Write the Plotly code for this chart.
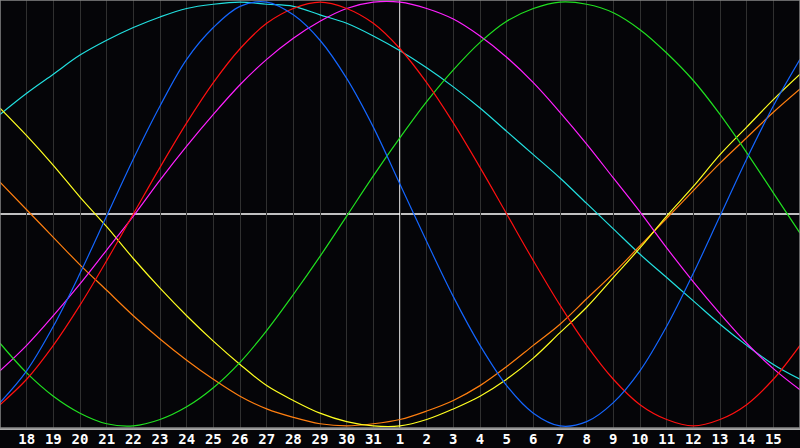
import plotly.graph_objects as go

days = list(range(31))
tick_pos = list(range(1, 30))
tick_labels = ["18", "19", "20", "21", "22", "23", "24", "25", "26", "27", "28", "29", "30", "31",
               "1", "2", "3", "4", "5", "6", "7", "8", "9", "10", "11", "12", "13", "14", "15"]

blue = [-0.89, -0.74, -0.53, -0.28, -0.01, 0.26, 0.51, 0.73, 0.88, 0.98, 1.00, 0.94, 0.82, 0.64, 0.41, 0.14,
        -0.13, -0.39, -0.62, -0.81, -0.94, -1.00, -0.98, -0.89, -0.74, -0.53, -0.28, -0.01, 0.26, 0.51, 0.73]
red = [-0.90, -0.78, -0.62, -0.43, -0.22, 0.00, 0.22, 0.43, 0.62, 0.78, 0.90, 0.97, 1.00, 0.97, 0.90, 0.78,
       0.62, 0.43, 0.22, 0.00, -0.22, -0.43, -0.62, -0.78, -0.90, -0.97, -1.00, -0.97, -0.90, -0.78, -0.62]
green = [-0.61, -0.75, -0.86, -0.94, -0.99, -1.00, -0.97, -0.91, -0.82, -0.70, -0.55, -0.38, -0.20, -0.01, 0.18, 0.36,
         0.53, 0.68, 0.81, 0.91, 0.97, 1.00, 0.99, 0.95, 0.87, 0.76, 0.63, 0.47, 0.29, 0.10, -0.09]
magenta = [-0.74, -0.62, -0.48, -0.33, -0.17, -0.01, 0.16, 0.32, 0.47, 0.61, 0.73, 0.83, 0.91, 0.97, 1.00, 1.00,
           0.97, 0.92, 0.84, 0.74, 0.62, 0.48, 0.33, 0.17, 0.01, -0.16, -0.32, -0.47, -0.61, -0.73, -0.83]
yellow = [0.50, 0.37, 0.23, 0.08, -0.06, -0.21, -0.35, -0.48, -0.60, -0.71, -0.81, -0.88, -0.94, -0.98, -1.00, -1.00,
          -0.97, -0.92, -0.86, -0.78, -0.68, -0.56, -0.44, -0.30, -0.16, -0.01, 0.13, 0.28, 0.41, 0.54, 0.66]
orange = [0.15, 0.02, -0.11, -0.24, -0.36, -0.48, -0.59, -0.69, -0.78, -0.86, -0.92, -0.96, -0.99, -1.00, -0.99, -0.97,
          -0.93, -0.88, -0.81, -0.72, -0.62, -0.52, -0.40, -0.28, -0.15, -0.02, 0.11, 0.24, 0.36, 0.48, 0.59]
cyan = [0.47, 0.57, 0.66, 0.75, 0.82, 0.88, 0.93, 0.97, 0.99, 1.00, 0.99, 0.98, 0.94, 0.90, 0.84, 0.77,
        0.69, 0.60, 0.50, 0.39, 0.28, 0.17, 0.05, -0.07, -0.19, -0.30, -0.41, -0.52, -0.62, -0.71, -0.78]

series = [
    ("cyan", cyan, "#22e0e0"),
    ("orange", orange, "#ff7f10"),
    ("yellow", yellow, "#ffff20"),
    ("magenta", magenta, "#ff20ff"),
    ("green", green, "#20e020"),
    ("red", red, "#ff1010"),
    ("blue", blue, "#1466ff"),
]

fig = go.Figure()
for name, vals, col in series:
    fig.add_trace(go.Scatter(x=days, y=vals, mode="lines", name=name,
                             line=dict(color=col, width=1.2, shape="spline", smoothing=1.0),
                             hoverinfo="skip"))

fig.add_shape(type="line", xref="x", yref="y", x0=0, x1=30, y0=0, y1=0,
              line=dict(color="#ffffff", width=1.5), layer="below")
fig.add_shape(type="line", xref="x", yref="y", x0=15, x1=15, y0=-1.01, y1=1.01,
              line=dict(color="#ffffff", width=1.5), layer="below")
fig.add_shape(type="rect", xref="paper", yref="paper", x0=0, x1=1, y0=0, y1=1,
              line=dict(color="#888888", width=1.5), layer="above")

fig.update_layout(
    width=800, height=448,
    margin=dict(l=0, r=0, t=0, b=20),
    paper_bgcolor="#050508", plot_bgcolor="#050508",
    showlegend=False,
    xaxis=dict(range=[0, 30], tickmode="array", tickvals=tick_pos, ticktext=tick_labels,
               showgrid=True, gridcolor="#303030", gridwidth=1, zeroline=False,
               ticks="", ticklabelstandoff=-3,
               tickfont=dict(family="DejaVu Sans Mono", size=14, color="#ffffff", weight="bold"),
               showline=True, linecolor="#aaaaaa", linewidth=2, fixedrange=True),
    yaxis=dict(range=[-1.01, 1.01], showgrid=False, zeroline=False, showticklabels=False,
               ticks="", fixedrange=True),
)

fig.write_html("out.html", config={"displayModeBar": False},
               post_script="document.body.style.margin='0';document.body.style.background='#050508';document.body.style.overflow='hidden';")
